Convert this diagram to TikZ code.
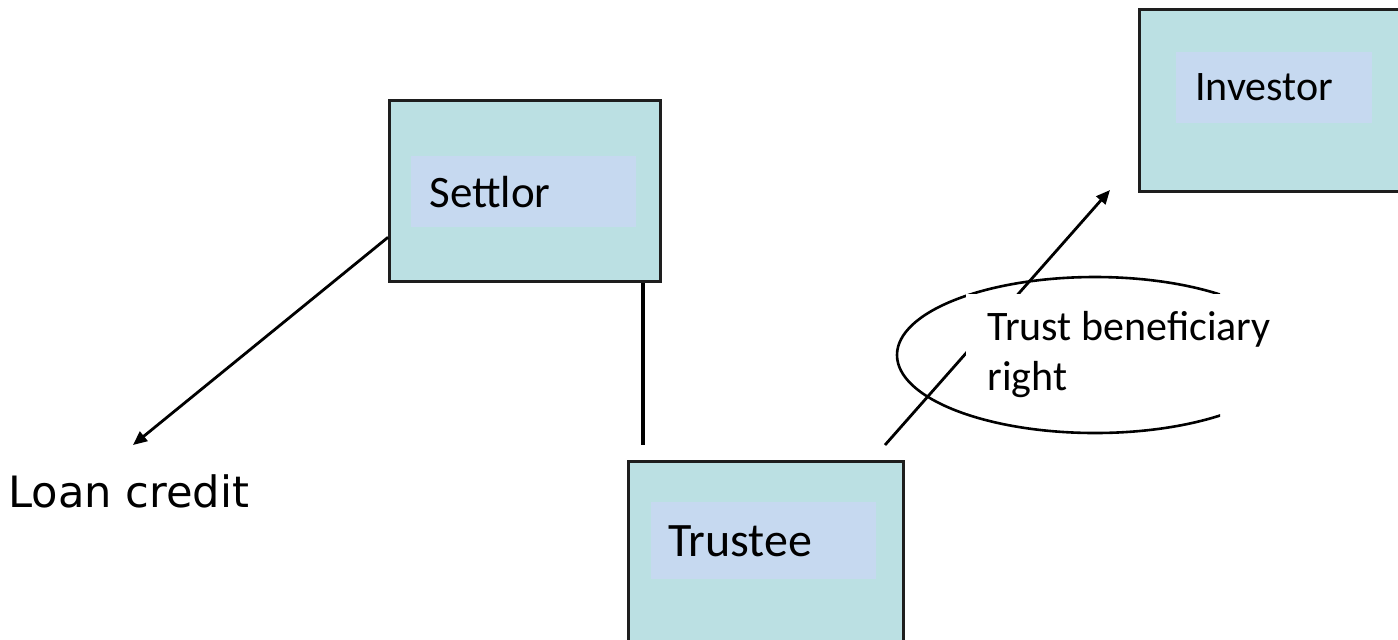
\documentclass[tikz,border=0pt]{standalone}
\usepackage{fontspec}
\setmainfont{Carlito}
\newfontfamily\dejavu{DejaVu Sans}
\usetikzlibrary{arrows.meta,calc}
\definecolor{boxfill}{RGB}{187,224,227}
\definecolor{labelfill}{RGB}{198,217,240}
\definecolor{edgegray}{RGB}{30,30,30}
\begin{document}
\begin{tikzpicture}[x=0.5pt,y=-0.5pt,
  partybox/.style={draw=edgegray,line width=1.7pt,fill=boxfill,inner sep=0pt,anchor=north west},
  tagbox/.style={fill=labelfill,draw=none,inner sep=0pt,anchor=north west},
  tagtext/.style={anchor=base west,inner sep=0pt,font=\fontsize{22.5}{27}\selectfont},
  link/.style={line width=1.4pt,draw=black},
  tip/.style={-{Triangle[length=7pt,width=6pt]}}]
\clip (0,0) rectangle (1398,639);

% party boxes with their label strips
\node[partybox,minimum width=135.5pt,minimum height=90.5pt] (settlor) at (388,99) {};
\node[tagbox,minimum width=112.5pt,minimum height=35.5pt] (settlorin) at (411,156) {};
\node[tagtext] (settlortxt) at (429,207) {Settlor};

\node[partybox,minimum width=140pt,minimum height=91pt] (investor) at (1138,8) {};
\node[tagbox,minimum width=98pt,minimum height=35.5pt] (investorin) at (1176,52) {};
\node[tagtext,font=\fontsize{21}{25}\selectfont] (investortxt) at (1195,100) {Investor};

\node[partybox,minimum width=137.5pt,minimum height=100pt] (trustee) at (627,460) {};
\node[tagbox,minimum width=112.5pt,minimum height=38.5pt] (trusteein) at (651,502) {};
\node[tagtext,font=\fontsize{24}{28}\selectfont] (trusteetxt) at (668,556) {Trustee};

% loose ends of the connectors
\coordinate (loanend) at (133,445);
\coordinate (settlorfoot) at (643,445);
\coordinate (trusteetop) at (885,445);
\coordinate (investorfoot) at (1110,190);

\node[anchor=base west,inner sep=0pt,font=\dejavu\fontsize{21.6}{26}\selectfont] (loan) at (8,507) {Loan credit};

% beneficiary-right ellipse, cut off on the right
\begin{scope}
  \clip (880,250) rectangle (1220,450);
  \draw[line width=1.3pt] (1095,355) ellipse [x radius=198, y radius=78];
\end{scope}

% connectors
\draw[link,tip] ($(settlor.north west)!0.75!(settlor.south west)$) -- (loanend);
\draw[link,line width=1.7pt] (settlor.south -| settlorfoot) -- (settlorfoot);
\draw[link,tip] (trusteetop) -- (investorfoot);

% text panel over the ellipse
\fill[white] (966,294) rectangle (1230,413);
\node[anchor=base west,inner sep=0pt,align=left,font=\fontsize{21}{25}\selectfont] (benefit) at (987,390) {Trust beneficiary\\right};
\end{tikzpicture}
\end{document}
